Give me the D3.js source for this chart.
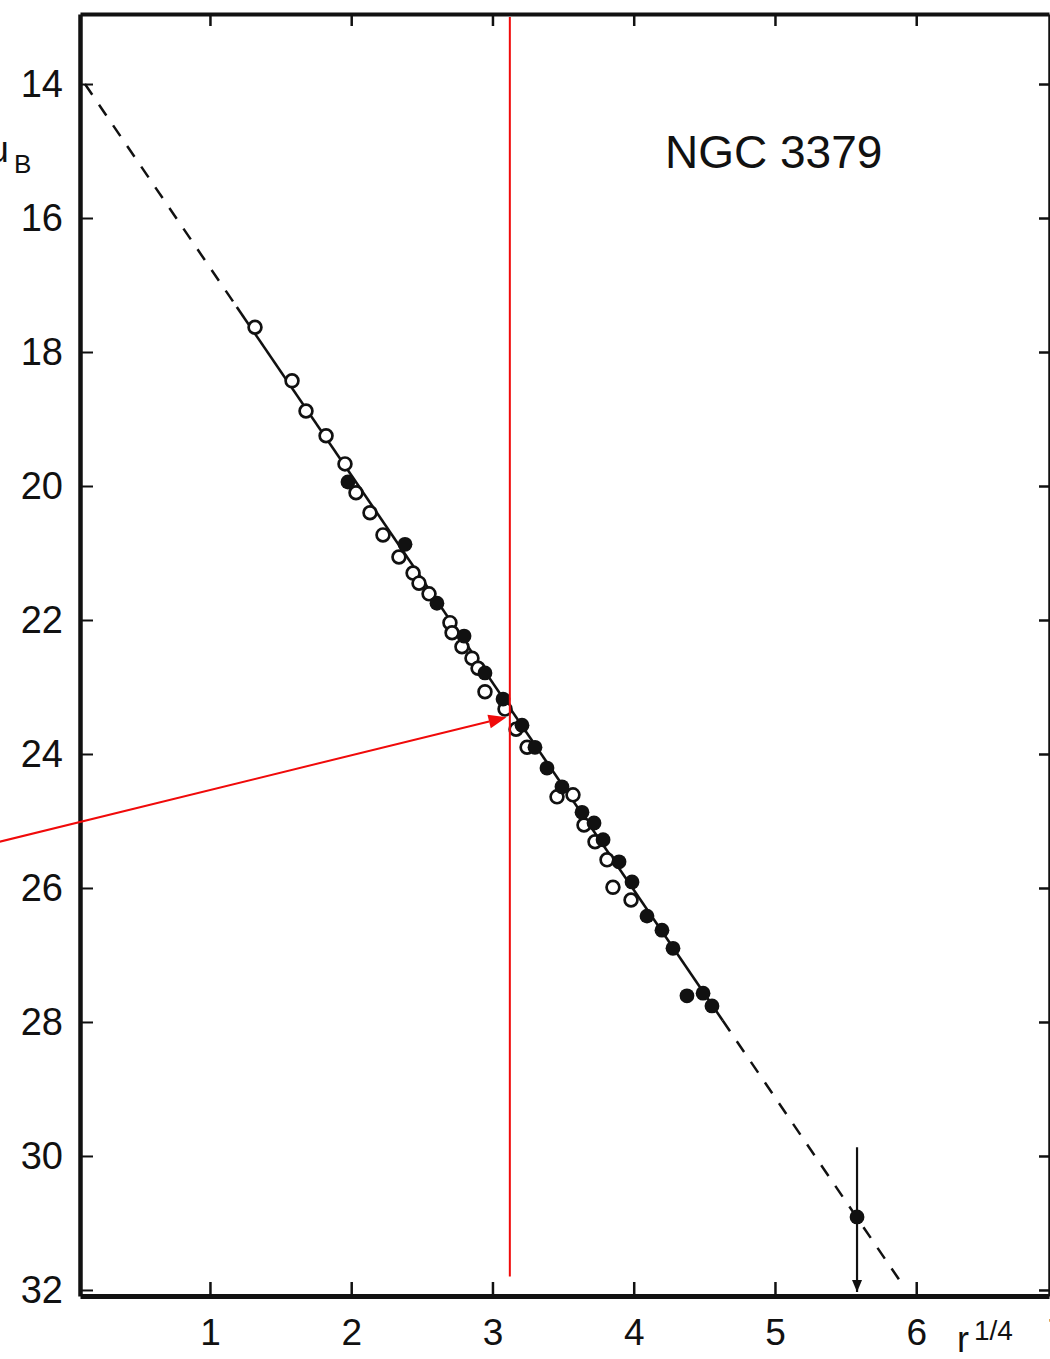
<!DOCTYPE html>
<html>
<head>
<meta charset="utf-8">
<script src="https://cdn.jsdelivr.net/npm/d3@7"></script>
<style>
  html, body { margin: 0; padding: 0; background: #fff; }
  svg { display: block; }
  text { font-family: "Liberation Sans", Arial, sans-serif; fill: #111; }
</style>
</head>
<body>
<svg id="chart" width="1050" height="1359"></svg>
<script>
// ---- data ----
const title = "NGC 3379";
const xTicks = [1, 2, 3, 4, 5, 6, 7];
const yTicks = [14, 16, 18, 20, 22, 24, 26, 28, 30, 32];

// open circles: r^1/4, mu_B
const openX = [1.319, 1.581, 1.680, 1.822, 1.956, 2.034, 2.133, 2.225, 2.338, 2.438, 2.480, 2.551, 2.699, 2.714,
               2.784, 2.855, 2.898, 2.947, 3.089, 3.167, 3.245, 3.457, 3.570, 3.648, 3.726, 3.811, 3.853, 3.981];
const openY = [17.63, 18.43, 18.88, 19.25, 19.67, 20.10, 20.40, 20.73, 21.06, 21.30, 21.45, 21.61, 22.04, 22.19,
               22.40, 22.57, 22.72, 23.07, 23.33, 23.63, 23.90, 24.64, 24.61, 25.06, 25.31, 25.58, 25.99, 26.18];

// filled circles
const filledX = [1.977, 2.381, 2.607, 2.799, 2.947, 3.075, 3.209, 3.301, 3.386, 3.492, 3.634, 3.719, 3.783,
                 3.896, 3.988, 4.094, 4.200, 4.278, 4.377, 4.491, 4.554, 5.581];
const filledY = [19.94, 20.87, 21.75, 22.24, 22.79, 23.18, 23.57, 23.90, 24.21, 24.49, 24.87, 25.03, 25.28,
                 25.61, 25.91, 26.42, 26.63, 26.90, 27.61, 27.57, 27.76, 30.91];

// error bar on the outermost point (upper limit arrow)
const errX = [5.581];
const errTop = [29.87];
const errBottom = [32.03];

// r^1/4 law fit: mu = fitA + fitB * (x - fitX0)
const fitX0 = 0.115, fitA = 14.0, fitB = 3.096;
const fitDashedLeft = [0.115, 1.19];
const fitSolid = [1.19, 4.63];
const fitDashedRight = [4.63, 5.907];

// red annotations
const redVerticalX = [3.123];
const redVerticalY = [13.0, 31.8];
const redArrowFrom = [-0.49, 25.31];
const redArrowTo = [3.10, 23.45];

(function () {
// ---- scales ----
const svg = d3.select("#chart");
const x = d3.scaleLinear().domain([0.08, 6.94]).range([80, 1049]);
const y = d3.scaleLinear().domain([12.955, 32.09]).range([14, 1296]);
const ink = "#111";
const red = "#f00a0a";
const font = '"Liberation Sans", Arial, sans-serif';

// ---- frame / axes ----
const xL = x.range()[0], xR = x.range()[1], yT = y.range()[0], yB = y.range()[1];

svg.append("g").attr("transform", `translate(0,${yB})`)
  .call(d3.axisBottom(x).tickValues(xTicks).tickSize(-14).tickSizeOuter(0).tickPadding(22).tickFormat(d3.format("d")))
  .call(g => g.select(".domain").attr("stroke", ink).attr("stroke-width", 5))
  .call(g => g.selectAll(".tick line").attr("stroke", ink).attr("stroke-width", 2.5))
  .call(g => g.selectAll(".tick text").attr("font-size", 37).attr("fill", ink)
      .attr("font-family", font).attr("dy", "0.72em"));

svg.append("g").attr("transform", `translate(0,${yT})`)
  .call(d3.axisTop(x).tickValues(xTicks.filter(d => d < 7)).tickSize(-12).tickSizeOuter(0).tickFormat(""))
  .call(g => g.select(".domain").attr("stroke", ink).attr("stroke-width", 4))
  .call(g => g.selectAll(".tick line").attr("stroke", ink).attr("stroke-width", 2.5));

svg.append("g").attr("transform", `translate(${xL},0)`)
  .call(d3.axisLeft(y).tickValues(yTicks).tickSize(-13).tickSizeOuter(0).tickPadding(17).tickFormat(d3.format("d")))
  .call(g => g.select(".domain").attr("stroke", ink).attr("stroke-width", 4.5))
  .call(g => g.selectAll(".tick line").attr("stroke", ink).attr("stroke-width", 2))
  .call(g => g.selectAll(".tick text").attr("font-size", 38).attr("fill", ink)
      .attr("font-family", font));

svg.append("g").attr("transform", `translate(${xR},0)`)
  .call(d3.axisRight(y).tickValues(yTicks).tickSize(-10).tickSizeOuter(0).tickFormat(""))
  .call(g => g.select(".domain").attr("stroke", ink).attr("stroke-width", 2.5))
  .call(g => g.selectAll(".tick line").attr("stroke", ink).attr("stroke-width", 2.5));

// ---- axis titles ----
svg.append("text").attr("x", 9).attr("y", 162).attr("text-anchor", "end").attr("font-size", 36).text("μ");
svg.append("text").attr("x", 14).attr("y", 173).attr("font-size", 26).text("B");

const xl = svg.append("text").attr("x", 957).attr("y", 1352).attr("font-size", 36);
xl.append("tspan").text("r");
xl.append("tspan").attr("dx", 5).attr("dy", -12).attr("font-size", 28).text("1/4");

// ---- title ----
svg.append("text").attr("x", 665).attr("y", 168).attr("font-size", 46).text(title);

// ---- fit line ----
const fit = v => fitA + fitB * (v - fitX0);
const seg = r => [[r[0], fit(r[0])], [r[1], fit(r[1])]];
const line = d3.line().x(d => x(d[0])).y(d => y(d[1]));
[fitDashedLeft, fitDashedRight].forEach(r => {
  svg.append("path").attr("d", line(seg(r))).attr("fill", "none")
    .attr("stroke", ink).attr("stroke-width", 2.5).attr("stroke-dasharray", "13,12");
});
svg.append("path").attr("d", line(seg(fitSolid))).attr("fill", "none")
  .attr("stroke", ink).attr("stroke-width", 2.6);

// ---- error bar ----
errX.forEach((ex, i) => {
  svg.append("line").attr("x1", x(ex)).attr("x2", x(ex)).attr("y1", y(errTop[i])).attr("y2", y(errBottom[i]))
    .attr("stroke", ink).attr("stroke-width", 2.2);
  const bx = x(ex), by = y(errBottom[i]);
  svg.append("path").attr("d", `M${bx - 5},${by - 12} L${bx + 5},${by - 12} L${bx},${by} Z`).attr("fill", ink);
});

// ---- points ----
const openPts = openX.map((v, i) => [v, openY[i]]);
const filledPts = filledX.map((v, i) => [v, filledY[i]]);

svg.append("g").selectAll("circle").data(openPts).join("circle")
  .attr("cx", d => x(d[0])).attr("cy", d => y(d[1])).attr("r", 6.4)
  .attr("fill", "#fff").attr("stroke", ink).attr("stroke-width", 2.7);

svg.append("g").selectAll("circle").data(filledPts).join("circle")
  .attr("cx", d => x(d[0])).attr("cy", d => y(d[1])).attr("r", 7.4)
  .attr("fill", ink);

// ---- red annotations ----
svg.append("line").attr("x1", x(redVerticalX[0])).attr("x2", x(redVerticalX[0]))
  .attr("y1", y(redVerticalY[0])).attr("y2", y(redVerticalY[1]))
  .attr("stroke", red).attr("stroke-width", 2);

const ax0 = x(redArrowFrom[0]), ay0 = y(redArrowFrom[1]);
const ax1 = x(redArrowTo[0]), ay1 = y(redArrowTo[1]);
const ang = Math.atan2(ay1 - ay0, ax1 - ax0);
const hl = 18, hw = 7;
const bxh = ax1 - hl * Math.cos(ang), byh = ay1 - hl * Math.sin(ang);
svg.append("line").attr("x1", ax0).attr("y1", ay0).attr("x2", bxh).attr("y2", byh)
  .attr("stroke", red).attr("stroke-width", 2);
svg.append("path")
  .attr("d", `M${ax1},${ay1} L${bxh - hw * Math.sin(ang)},${byh + hw * Math.cos(ang)} L${bxh + hw * Math.sin(ang)},${byh - hw * Math.cos(ang)} Z`)
  .attr("fill", red);
})();
</script>
</body>
</html>
